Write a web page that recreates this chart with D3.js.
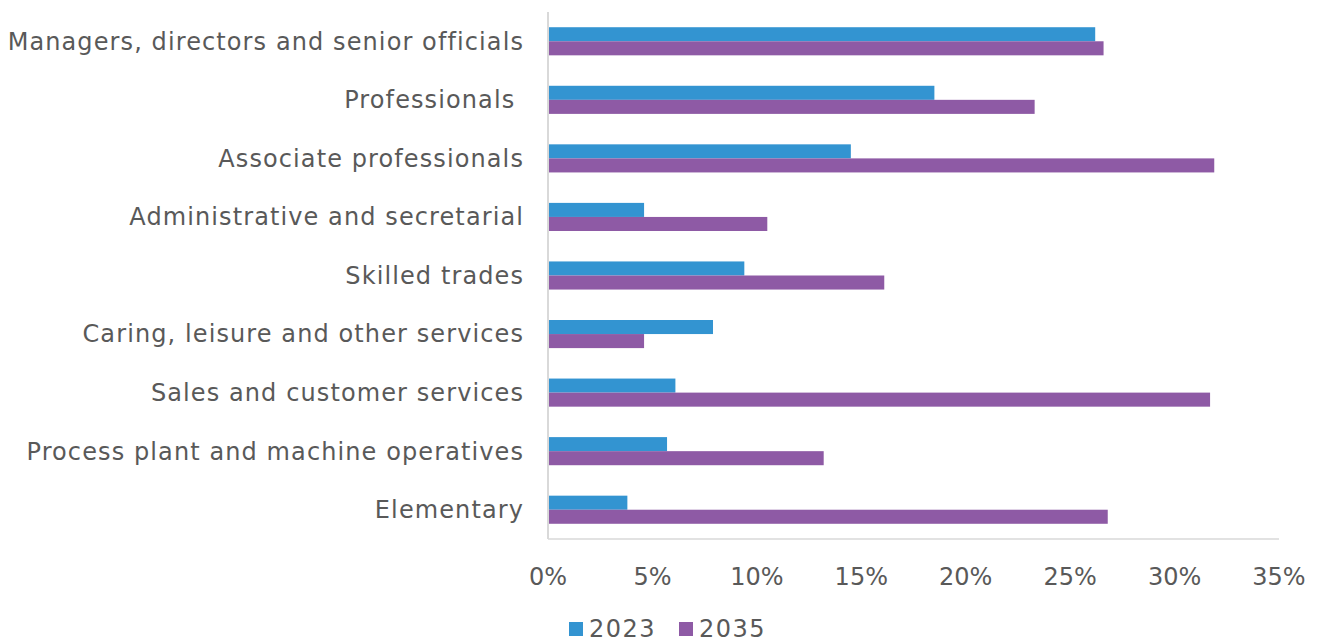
<!DOCTYPE html>
<html>
<head>
<meta charset="utf-8">
<script src="https://cdn.jsdelivr.net/npm/d3@7"></script>
<style>
	body { margin: 0; background: #fff; }
	text { font-family: "DejaVu Sans", sans-serif; fill: #595959; }
</style>
</head>
<body>
<script>
	// chart values
	var categories = [
		"Managers, directors and senior officials",
		"Professionals ",
		"Associate professionals",
		"Administrative and secretarial",
		"Skilled trades",
		"Caring, leisure and other services",
		"Sales and customer services",
		"Process plant and machine operatives",
		"Elementary"
	];
	var seriesNames = ["2023", "2035"];
	var values2023 = [26.2, 18.5, 14.5, 4.6, 9.4, 7.9, 6.1, 5.7, 3.8];
	var values2035 = [26.6, 23.3, 31.9, 10.5, 16.1, 4.6, 31.7, 13.2, 26.8];
	var tickValues = [0, 5, 10, 15, 20, 25, 30, 35];
	var colors = ["#3394d1", "#8e5aa5"];

	var width = 1319,
		height = 642;
	var plotLeft = 548, plotRight = 1279, plotTop = 12, plotBottom = 539;

	var svg = d3.select("body").append("svg")
		.attr("width", width)
		.attr("height", height);

	var x = d3.scaleLinear().domain([0, 35]).range([plotLeft, plotRight]);
	var y = d3.scaleBand().domain(categories).range([plotTop, plotBottom]).paddingInner(0.52).paddingOuter(0.26);
	var y2 = d3.scaleBand().domain(seriesNames).range([0, y.bandwidth()]);

	var rows = categories.map(function(c, i) {
		return { cat: c, vals: [values2023[i], values2035[i]] };
	});

	// bars
	var groups = svg.selectAll("g.row")
		.data(rows)
		.enter().append("g")
		.attr("class", "row")
		.attr("transform", function(d) { return "translate(0," + y(d.cat) + ")"; });

	groups.selectAll("rect")
		.data(function(d) { return d.vals.map(function(v, j) { return { s: seriesNames[j], v: v, j: j }; }); })
		.enter().append("rect")
		.attr("x", x(0))
		.attr("y", function(d) { return y2(d.s); })
		.attr("width", function(d) { return x(d.v) - x(0); })
		.attr("height", y2.bandwidth())
		.style("fill", function(d) { return colors[d.j]; });

	// axes
	svg.append("line")
		.attr("x1", plotLeft).attr("x2", plotLeft)
		.attr("y1", plotTop).attr("y2", plotBottom)
		.style("stroke", "#d9d9d9").style("stroke-width", 2);
	svg.append("line")
		.attr("x1", plotLeft).attr("x2", plotRight)
		.attr("y1", plotBottom).attr("y2", plotBottom)
		.style("stroke", "#d9d9d9").style("stroke-width", 1.5);

	// category labels
	svg.selectAll("text.cat")
		.data(categories)
		.enter().append("text")
		.attr("class", "cat")
		.attr("x", plotLeft - 24)
		.attr("y", function(d) { return y(d) + y.bandwidth() / 2; })
		.attr("dy", "0.35em")
		.attr("text-anchor", "end")
		.style("font-size", "24px")
		.style("letter-spacing", "1.1px")
		.style("white-space", "pre")
		.text(function(d) { return d; });

	// tick labels
	svg.selectAll("text.tick")
		.data(tickValues)
		.enter().append("text")
		.attr("class", "tick")
		.attr("x", function(d) { return x(d); })
		.attr("y", 585)
		.attr("text-anchor", "middle")
		.style("font-size", "24px")
		.text(function(d) { return d + "%"; });

	// legend
	var legend = svg.append("g").attr("transform", "translate(569, 622)");
	var lx = [0, 110];
	seriesNames.forEach(function(s, i) {
		legend.append("rect")
			.attr("x", lx[i]).attr("y", 0)
			.attr("width", 14).attr("height", 14)
			.style("fill", colors[i]);
		legend.append("text")
			.attr("x", lx[i] + 20).attr("y", 15)
			.style("font-size", "24px")
			.style("letter-spacing", "1.5px")
			.text(s);
	});
</script>
</body>
</html>
